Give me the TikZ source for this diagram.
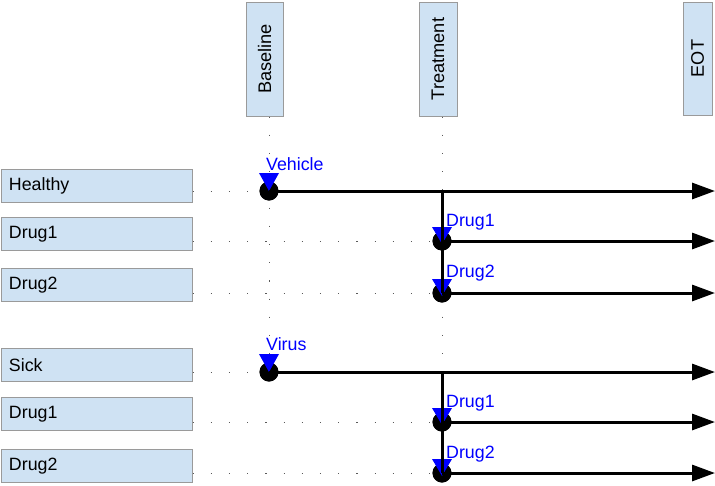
\documentclass[tikz,border=0pt]{standalone}
\usepackage{fontspec}
\setmainfont{Liberation Sans}
\usetikzlibrary{arrows.meta}
\definecolor{boxfill}{HTML}{CFE2F3}
\definecolor{boxline}{HTML}{9A9A9A}
\definecolor{lblblue}{HTML}{0000FF}
\tikzset{
  rowbox/.style={draw=boxline, line width=1pt, fill=boxfill, minimum width=191pt, minimum height=33pt,
     text width=175pt, align=left, inner xsep=8pt, font=\fontsize{17.8}{20}\selectfont},
  headbox/.style={draw=boxline, line width=1pt, fill=boxfill, rotate=90, minimum width=114pt,
     font=\fontsize{18.2}{20}\selectfont, inner sep=0pt},
  tdot/.style={circle, fill=black, minimum size=19pt, inner sep=0pt},
  lbl/.style={text=lblblue, anchor=west, inner sep=0pt, font=\fontsize{17.8}{20}\selectfont},
  dotline/.style={black!65, line width=1pt, dash pattern=on 1.2pt off 17pt},
  mainarrow/.style={line width=3pt, -{Triangle[length=23pt,width=16pt]}},
  vline/.style={line width=3pt},
  marker/.style={fill=lblblue}
}
\begin{document}
\begin{tikzpicture}[x=1pt,y=-1pt]
\useasboundingbox (0,0) rectangle (715,485);
% header boxes
\node[headbox, minimum height=37pt] (bbox) at (264.5,59) {Baseline};
\node[headbox, minimum height=38pt] (tbox) at (438,59) {Treatment};
\node[headbox, minimum height=29pt, minimum width=113pt] (ebox) at (697.5,58.5) {EOT};
% row boxes
\node[rowbox] (hb) at (96.5,185.5) {Healthy};
\node[rowbox] (hb1) at (96.5,234) {Drug1};
\node[rowbox] (hb2) at (96.5,285) {Drug2};
\node[rowbox] (sb) at (96.5,365) {Sick};
\node[rowbox] (sb1) at (96.5,414) {Drug1};
\node[rowbox] (sb2) at (96.5,466) {Drug2};
% dots
\node[tdot] (h0) at (269,191) {};
\node[tdot] (h1) at (442,241) {};
\node[tdot] (h2) at (442,293) {};
\node[tdot] (s0) at (269,372) {};
\node[tdot] (s1) at (442,422) {};
\node[tdot] (s2) at (442,473) {};
% end points
\coordinate (he) at (715,191);
\coordinate (h1e) at (715,241);
\coordinate (h2e) at (715,293);
\coordinate (se) at (715,372);
\coordinate (s1e) at (715,422);
\coordinate (s2e) at (715,473);
\coordinate (hsplit) at (h1 |- h0);
\coordinate (ssplit) at (s1 |- s0);
% dotted guides
\draw[dotline] (bbox.west -| h0) -- (s0);
\draw[dotline] (tbox.west -| h1) -- (ssplit);
\draw[dotline] (hb.east |- h0) -- (h0);
\draw[dotline] (hb1.east |- h1) -- (h1);
\draw[dotline] (hb2.east |- h2) -- (h2);
\draw[dotline] (sb.east |- s0) -- (s0);
\draw[dotline] (sb1.east |- s1) -- (s1);
\draw[dotline] (sb2.east |- s2) -- (s2);
% dots redrawn on top of guides
\foreach \d in {h0,h1,h2,s0,s1,s2}{
  \fill (\d) circle (9.5pt);
}
% markers
\foreach \d in {h0,s0}{
  \fill[marker] ([shift={(-10,-18)}]\d.center) -- ++(20,0) -- ([shift={(0,0)}]\d.center) -- cycle;
}
\foreach \d in {h1,h2,s1,s2}{
  \fill[marker] ([shift={(-10,-14)}]\d.center) -- ++(20,0) -- ([shift={(0,3)}]\d.center) -- cycle;
}
% labels
\node[lbl] (lv) at (266,164) {Vehicle};
\node[lbl] (lh1) at (446,222) {Drug1};
\node[lbl] (lh2) at (446,273) {Drug2};
\node[lbl] (lvi) at (266,344) {Virus};
\node[lbl] (ls1) at (446,403) {Drug1};
\node[lbl] (ls2) at (446,454) {Drug2};
% connectors
\draw[vline] (hsplit) -- (h2.center);
\draw[vline] (ssplit) -- (s2.center);
\draw[mainarrow] (h0.center) -- (he);
\draw[mainarrow] (h1.center) -- (h1e);
\draw[mainarrow] (h2.center) -- (h2e);
\draw[mainarrow] (s0.center) -- (se);
\draw[mainarrow] (s1.center) -- (s1e);
\draw[mainarrow] (s2.center) -- (s2e);
\end{tikzpicture}
\end{document}
